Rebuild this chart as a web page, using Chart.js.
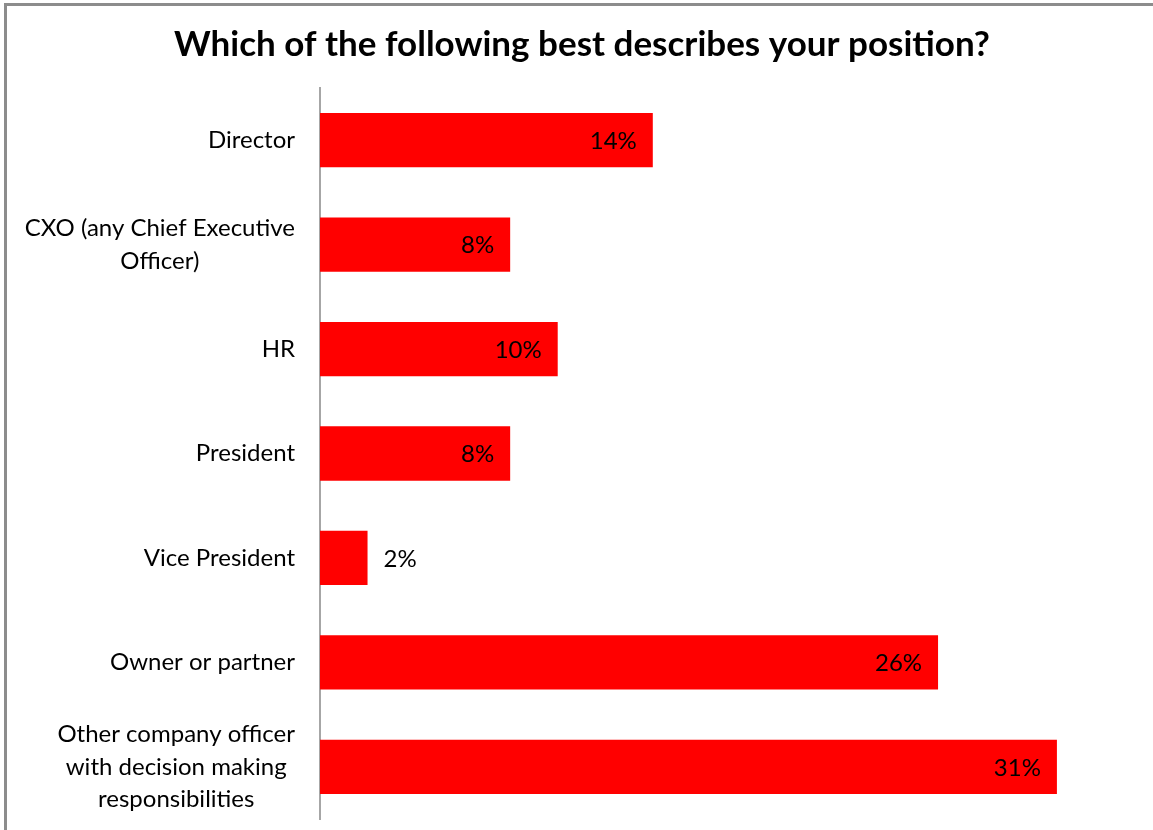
<!DOCTYPE html>
<html>
<head>
<meta charset="utf-8">
<title>Position</title>
<script src="https://cdn.jsdelivr.net/npm/chart.js@4/dist/chart.umd.min.js"></script>
<style>
    html, body { margin: 0; padding: 0; background: #fff; overflow: hidden; }
    #wrap { position: relative; width: 1153px; height: 830px; }
    #frame {
        position: absolute; left: 4px; top: 3px; width: 1200px; height: 900px;
        border: 3px solid #8c8c8c; pointer-events: none;
    }
</style>
</head>
<body>
<div id="wrap">
    <canvas id="positionChart" width="1153" height="830"></canvas>
    <div id="frame"></div>
</div>
<script>
const titleText = "Which of the following best describes your position?";
const categories = [
    "Director",
    ["CXO (any Chief Executive", "Officer)"],
    "HR",
    "President",
    "Vice President",
    "Owner or partner",
    ["Other company officer", "with decision making", "responsibilities"],
];
const shares = [14, 8, 10, 8, 2, 26, 31];
const axisMax = 35;

const labelFont = "24px Lato";
const labelLine = 32.5;

// category labels: each block right-aligned to the axis, wrapped lines centred within it
const categoryLabels = {
    id: "categoryLabels",
    afterDraw(chart) {
        const ctx = chart.ctx;
        const yScale = chart.scales.y;
        const right = chart.chartArea.left - 25;
        ctx.save();
        ctx.font = labelFont;
        ctx.fillStyle = "#000";
        ctx.textBaseline = "middle";
        ctx.textAlign = "center";
        categories.forEach(function (label, i) {
            const lines = Array.isArray(label) ? label : [label];
            const widest = Math.max.apply(null, lines.map(l => ctx.measureText(l).width));
            const cx = right - widest / 2;
            const cy = yScale.getPixelForValue(i);
            lines.forEach(function (line, j) {
                ctx.fillText(line, cx, cy + (j - (lines.length - 1) / 2) * labelLine);
            });
        });
        ctx.restore();
    },
};

// value labels: inside the bar end, or just past it when the bar is too short
const valueLabels = {
    id: "valueLabels",
    afterDatasetsDraw(chart) {
        const ctx = chart.ctx;
        const meta = chart.getDatasetMeta(0);
        ctx.save();
        ctx.font = labelFont;
        ctx.fillStyle = "#000";
        ctx.textBaseline = "middle";
        meta.data.forEach(function (bar, i) {
            const text = shares[i] + "%";
            const w = ctx.measureText(text).width;
            const len = bar.x - bar.base;
            if (len > w + 24) {
                ctx.textAlign = "right";
                ctx.fillText(text, bar.x - 16, bar.y + 1);
            } else {
                ctx.textAlign = "left";
                ctx.fillText(text, bar.x + 16, bar.y + 1);
            }
        });
        ctx.restore();
    },
};

document.addEventListener("DOMContentLoaded", function () {
    const ctx = document.getElementById("positionChart").getContext("2d");
    new Chart(ctx, {
        type: "bar",
        data: {
            labels: categories,
            datasets: [{
                data: shares,
                backgroundColor: "#ff0000",
                borderWidth: 0,
                categoryPercentage: 1,
                barPercentage: 0.52,
            }],
        },
        options: {
            indexAxis: "y",
            responsive: false,
            animation: false,
            layout: {padding: {left: 12, right: 1, top: 0, bottom: 11}},
            plugins: {
                legend: {display: false},
                tooltip: {enabled: false},
                title: {
                    display: true,
                    text: titleText,
                    color: "#000",
                    font: {family: "Lato", size: 35, weight: "bold", lineHeight: 1.2},
                    padding: {top: 24, bottom: 22},
                },
            },
            scales: {
                x: {
                    display: false,
                    min: 0,
                    max: axisMax,
                },
                y: {
                    grid: {display: false, drawTicks: false},
                    border: {display: true, color: "#a6a6a6", width: 2},
                    ticks: {display: false},
                    afterFit(scale) {
                        scale.width = 308;
                        scale.paddingTop = 0;
                        scale.paddingBottom = 0;
                    },
                },
            },
        },
        plugins: [valueLabels, categoryLabels],
    });
});
</script>
</body>
</html>
